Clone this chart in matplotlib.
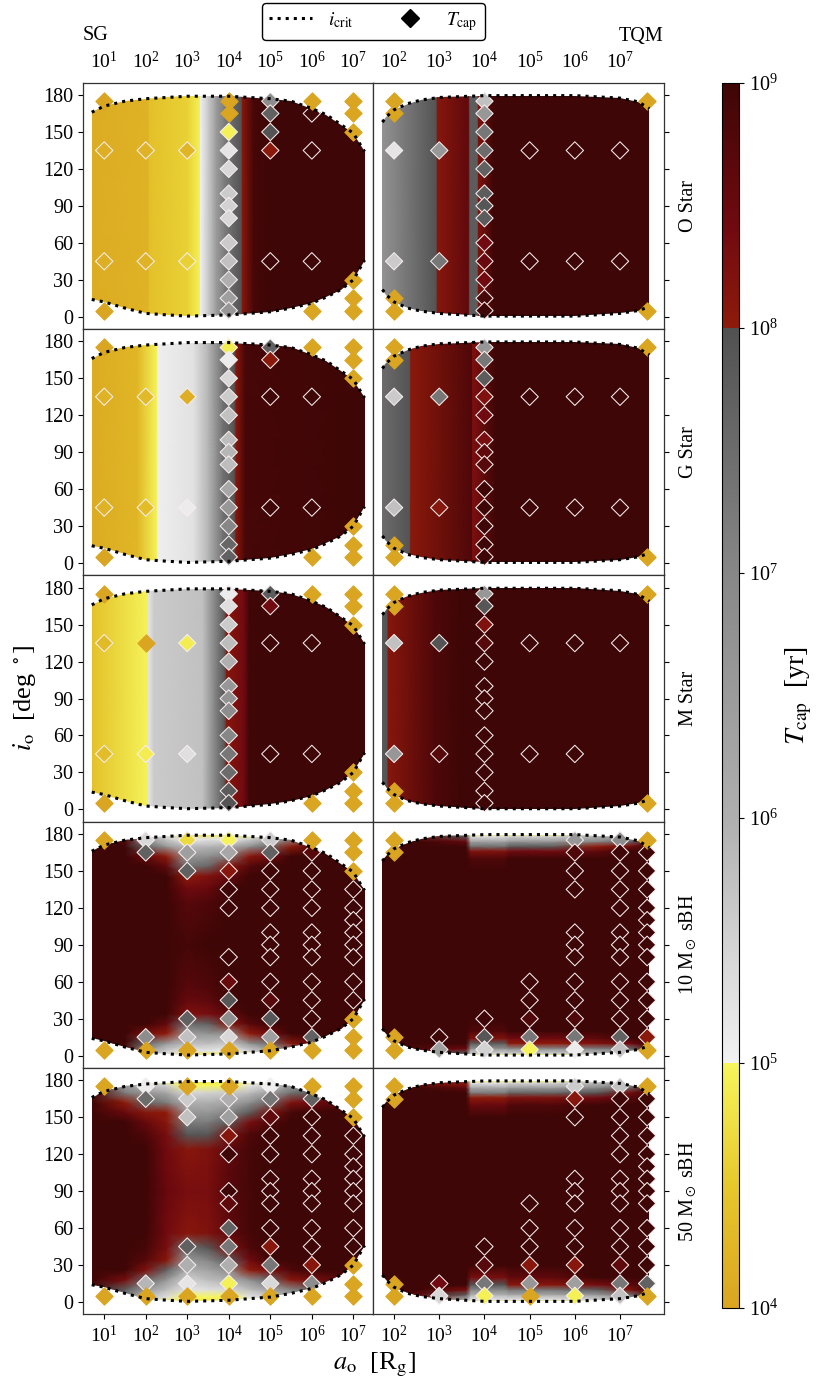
import numpy as np
import matplotlib
matplotlib.use('Agg')
import matplotlib.pyplot as plt
import matplotlib.ticker as ticker
from matplotlib.colors import LinearSegmentedColormap, Normalize, LogNorm
from matplotlib.cm import ScalarMappable
from matplotlib.lines import Line2D
from matplotlib.path import Path

plt.rcParams.update({
    'font.family': 'serif',
    'font.serif': ['Liberation Serif', 'DejaVu Serif'],
    'mathtext.fontset': 'stix',
    'font.size': 13,
    'xtick.labelsize': 14,
    'ytick.labelsize': 14.5,
    'xtick.direction': 'out',
    'ytick.direction': 'out',
})

GOLD = '#daa520'

# ---- i_crit boundaries: log10(a_o) and inclination [deg] ----
sg_edge_a = [0.70, 1.0, 1.5, 2.0, 2.5, 3.0, 4.0, 5.0, 5.5, 6.0, 6.35, 6.7, 7.0, 7.27]
sg_edge_top = [166, 171, 175, 177, 178, 179, 179, 177, 175, 169, 164, 156, 149, 134]
sg_edge_bot = [14, 12, 7, 2.7, 1.5, 0.5, 1.4, 4, 7, 11, 16, 22, 30, 46]
tqm_edge_a = [1.74, 1.85, 2.0, 2.3, 2.6, 3.0, 4.0, 5.0, 6.0, 7.0, 7.4, 7.65]
tqm_edge_top = [158, 163, 168, 173, 176, 178, 179.5, 179.5, 179.5, 177.5, 174.5, 169]
tqm_edge_bot = [22, 17, 12, 7, 4.5, 2.7, 0.5, 0.5, 0.5, 2.7, 5, 8]

# ---- log10 T_cap maps for stars (depend on a_o only) ----
o_sg_a = [0.70, 2.05, 2.10, 3.00, 3.30, 3.32, 3.50, 3.70, 3.90, 4.10, 4.30, 4.33, 4.60, 5.00, 7.30]
o_sg_T = [4.10, 4.20, 4.40, 4.60, 4.95, 5.05, 5.60, 6.50, 7.20, 7.60, 7.95, 8.10, 8.90, 9.00, 9.00]
o_tqm_a = [1.74, 2.93, 2.96, 3.65, 3.68, 3.84, 3.87, 4.20, 7.65]
o_tqm_T = [6.70, 7.95, 8.10, 8.60, 7.80, 7.80, 8.20, 9.00, 9.00]
g_sg_a = [0.70, 1.80, 2.27, 2.29, 3.15, 3.50, 3.86, 4.13, 4.18, 4.40, 7.30]
g_sg_T = [4.10, 4.25, 4.97, 5.05, 5.25, 5.90, 7.40, 7.95, 8.10, 8.90, 9.00]
g_tqm_a = [1.74, 2.35, 2.37, 3.72, 3.74, 3.80, 4.25, 7.65]
g_tqm_T = [7.50, 7.95, 8.05, 8.80, 8.25, 8.30, 9.00, 9.00]
m_sg_a = [0.70, 2.05, 2.07, 2.20, 3.37, 3.90, 3.95, 4.36, 4.50, 7.30]
m_sg_T = [4.40, 4.97, 5.20, 5.60, 5.75, 7.90, 8.10, 8.40, 9.00, 9.00]
m_tqm_a = [1.74, 1.85, 1.87, 2.90, 3.50, 7.65]
m_tqm_T = [7.85, 7.95, 8.10, 8.80, 9.00, 9.00]
star_i = [0, 180]

# ---- log10 T_cap maps for sBH (rows: inclination, cols: log10 a_o) ----
sg_bh_a = [0.7, 1.5, 2.0, 2.5, 3.0, 3.5, 4.0, 4.5, 5.0, 5.5, 6.0, 7.3]
sg_bh_i = [0, 4, 10, 18, 26, 34, 44, 56, 90, 124, 136, 146, 154, 162, 170, 176, 180]
bh10_sg_T = [
    [9, 7.5, 5.8, 5.1, 4.7, 4.8, 4.9, 5.0, 5.5, 6.5, 7.5, 9],
    [9, 8.7, 6.5, 5.6, 5.2, 5.2, 5.1, 5.5, 6.0, 7.0, 7.8, 9],
    [9, 9, 7.6, 6.6, 5.8, 5.8, 5.6, 6.8, 7.5, 8.1, 8.6, 9],
    [9, 9, 8.3, 8.0, 6.5, 6.7, 6.8, 8.0, 8.4, 9, 9, 9],
    [9, 9, 9, 8.6, 7.5, 7.7, 8.1, 8.7, 9, 9, 9, 9],
    [9, 9, 9, 9, 8.2, 8.3, 8.6, 9, 9, 9, 9, 9],
    [9, 9, 9, 9, 8.5, 8.6, 9, 9, 9, 9, 9, 9],
    [9, 9, 9, 9, 8.7, 8.8, 9, 9, 9, 9, 9, 9],
    [9, 9, 9, 9, 8.9, 9, 9, 9, 9, 9, 9, 9],
    [9, 9, 9, 9, 8.7, 8.8, 9, 9, 9, 9, 9, 9],
    [9, 9, 9, 9, 8.4, 8.5, 9, 9, 9, 9, 9, 9],
    [9, 9, 9, 9, 8.0, 8.2, 8.5, 9, 9, 9, 9, 9],
    [9, 9, 9, 8.6, 7.3, 7.6, 8.1, 8.7, 9, 9, 9, 9],
    [9, 9, 8.5, 8.0, 6.6, 6.8, 7.2, 8.1, 8.4, 9, 9, 9],
    [9, 9, 7.6, 6.6, 5.8, 5.9, 6.0, 6.8, 7.5, 8.0, 8.6, 9],
    [9, 8.7, 6.5, 5.6, 5.1, 5.2, 5.2, 5.5, 6.2, 7.0, 7.8, 9],
    [9, 7.5, 5.8, 5.1, 4.7, 4.8, 4.9, 5.0, 5.5, 6.5, 7.5, 9],
]
bh50_sg_T = [
    [8.6, 6.5, 5.5, 5.0, 4.7, 4.8, 4.8, 4.9, 5.2, 6.0, 6.8, 9],
    [8.6, 7.0, 5.8, 5.3, 5.0, 5.0, 5.0, 5.2, 5.5, 6.4, 7.0, 9],
    [8.8, 7.8, 6.5, 5.8, 5.2, 5.3, 5.4, 5.8, 6.3, 7.0, 7.6, 9],
    [9, 8.3, 7.6, 6.6, 5.5, 5.8, 6.0, 6.8, 7.6, 8.1, 8.3, 9],
    [9, 9, 8.2, 7.7, 6.0, 6.3, 6.8, 8.0, 8.3, 8.8, 9, 9],
    [9, 9, 8.7, 8.1, 6.6, 7.0, 7.8, 8.4, 9, 9, 9, 9],
    [9, 9, 8.9, 8.3, 7.4, 7.9, 8.2, 8.8, 9, 9, 9, 9],
    [9, 9, 9, 8.4, 8.1, 8.2, 8.6, 8.9, 9, 9, 9, 9],
    [9, 9, 9, 8.5, 8.3, 8.3, 8.7, 8.9, 9, 9, 9, 9],
    [9, 9, 9, 8.4, 8.1, 8.2, 8.6, 8.9, 9, 9, 9, 9],
    [9, 9, 8.8, 8.3, 7.9, 7.9, 8.2, 8.8, 9, 9, 9, 9],
    [9, 9, 8.5, 8.1, 7.2, 7.2, 7.8, 8.3, 8.8, 9, 9, 9],
    [9, 8.5, 8.1, 8.0, 6.6, 6.6, 7.0, 7.8, 8.2, 8.9, 9, 9],
    [9, 8.0, 7.6, 7.2, 6.0, 6.0, 6.2, 6.8, 7.6, 8.2, 8.4, 9],
    [8.8, 7.2, 6.6, 6.2, 5.4, 5.5, 5.6, 5.8, 6.4, 7.4, 7.8, 9],
    [8.6, 6.5, 5.8, 5.5, 5.0, 5.0, 5.0, 5.2, 5.6, 6.6, 7.2, 9],
    [8.6, 6.0, 5.5, 5.0, 4.7, 4.8, 4.8, 4.9, 5.2, 6.2, 7.0, 9],
]
tqm_bh_a = [1.74, 2.5, 3.6, 3.7, 4.45, 4.55, 5.5, 6.5, 7.2, 7.65]
tqm_bh_i = [0, 2, 6, 10, 14, 20, 30, 90, 150, 160, 166, 170, 174, 178, 180]
bh10_tqm_T = [
    [9, 8.0, 7.5, 5.0, 5.0, 5.0, 5.0, 5.3, 6.0, 7.5],
    [9, 8.3, 7.9, 5.5, 5.5, 5.6, 5.6, 5.8, 6.5, 7.8],
    [9, 8.8, 8.5, 6.8, 6.8, 7.0, 7.0, 7.2, 7.5, 8.5],
    [9, 9, 9, 7.8, 7.8, 8.0, 8.0, 8.2, 8.4, 9],
    [9, 9, 9, 8.2, 8.2, 8.4, 8.4, 8.6, 9, 9],
    [9, 9, 9, 8.8, 8.8, 9, 9, 9, 9, 9],
    [9, 9, 9, 9, 9, 9, 9, 9, 9, 9],
    [9, 9, 9, 9, 9, 9, 9, 9, 9, 9],
    [9, 9, 9, 9, 9, 9, 9, 9, 9, 9],
    [9, 9, 9, 8.8, 8.8, 9, 9, 9, 9, 9],
    [9, 9, 9, 8.2, 8.2, 8.4, 8.4, 8.6, 9, 9],
    [9, 9, 9, 7.4, 7.4, 7.8, 7.8, 8.0, 8.3, 9],
    [9, 9, 8.5, 6.3, 6.3, 6.6, 6.6, 7.0, 7.5, 8.5],
    [9, 8.3, 7.9, 5.3, 5.3, 5.5, 5.5, 6.0, 6.5, 7.8],
    [9, 8.0, 7.5, 5.0, 5.0, 5.0, 5.0, 5.5, 6.0, 7.5],
]
bh50_tqm_T = [
    [9, 7.6, 5.5, 4.8, 4.8, 4.8, 4.8, 5.0, 6.0, 7.5],
    [9, 8.0, 6.0, 5.2, 5.2, 5.2, 5.2, 5.5, 6.5, 7.8],
    [9, 8.6, 7.8, 6.0, 6.0, 6.2, 6.2, 6.6, 7.4, 8.5],
    [9, 9, 8.3, 7.0, 7.0, 7.3, 7.3, 7.8, 8.2, 9],
    [9, 9, 9, 7.9, 7.9, 8.1, 8.1, 8.3, 8.6, 9],
    [9, 9, 9, 8.3, 8.3, 8.6, 8.6, 9, 9, 9],
    [9, 9, 9, 9, 9, 9, 9, 9, 9, 9],
    [9, 9, 9, 9, 9, 9, 9, 9, 9, 9],
    [9, 9, 9, 9, 9, 9, 9, 9, 9, 9],
    [9, 9, 9, 8.5, 8.5, 8.8, 8.8, 9, 9, 9],
    [9, 9, 9, 8.0, 8.0, 8.2, 8.2, 8.4, 8.7, 9],
    [9, 9, 9, 7.2, 7.2, 7.6, 7.6, 7.9, 8.3, 9],
    [9, 9, 8.6, 6.2, 6.2, 6.5, 6.5, 7.0, 7.6, 8.6],
    [9, 8.2, 8.0, 5.2, 5.2, 5.4, 5.4, 5.8, 6.6, 8.0],
    [9, 7.8, 7.6, 4.8, 4.8, 4.9, 4.9, 5.2, 6.0, 7.6],
]

# ---- individual runs: (log10 a_o, i_o, log10 T_cap) ----
o_sg_pts = [(1, 135, 4.15), (1, 45, 4.15), (2, 135, 4.2), (2, 45, 4.2), (3, 135, 4.25), (3, 45, 4.6),
            (4, 150, 4.95), (4, 135, 5.2), (4, 120, 5.4), (4, 100, 5.6), (4, 90, 5.5), (4, 80, 5.4),
            (4, 60, 5.6), (4, 45, 5.75), (4, 30, 6.0), (4, 15, 6.4), (4, 5, 6.6),
            (5, 175, 6.85), (5, 165, 7.7), (5, 150, 7.95), (5, 135, 8.05), (5, 45, 9),
            (6, 165, 9), (6, 135, 9), (6, 45, 9)]
o_tqm_pts = [(2, 135, 5.2), (2, 45, 5.6), (3, 135, 6.6), (3, 45, 7.3),
             (4, 175, 5.75), (4, 165, 6.6), (4, 150, 7.3), (4, 135, 7.5), (4, 120, 7.7), (4, 100, 7.8),
             (4, 90, 7.9), (4, 80, 7.8), (4, 60, 8.4), (4, 45, 8.5), (4, 30, 8.4), (4, 15, 8.9), (4, 5, 9),
             (5, 135, 9), (5, 45, 9), (6, 135, 9), (6, 45, 9), (7, 135, 9), (7, 45, 9)]
g_sg_pts = [(1, 135, 4.2), (1, 45, 4.2), (2, 135, 4.3), (2, 45, 4.35), (3, 135, 4.15), (3, 45, 5.1),
            (4, 175, 4.9), (4, 165, 5.1), (4, 150, 5.4), (4, 135, 5.6), (4, 120, 5.75), (4, 100, 5.8),
            (4, 90, 5.9), (4, 80, 5.8), (4, 60, 6.2), (4, 45, 6.6), (4, 30, 7.0), (4, 15, 7.6), (4, 5, 7.7),
            (5, 175, 7.7), (5, 165, 8.05), (5, 135, 9), (5, 45, 9), (6, 135, 9), (6, 45, 9)]
g_tqm_pts = [(2, 135, 5.6), (2, 45, 5.75), (3, 135, 7.3), (3, 45, 8.1),
             (4, 175, 6.6), (4, 165, 7.3), (4, 150, 7.8), (4, 135, 8.2), (4, 120, 8.4), (4, 100, 8.3),
             (4, 90, 8.6), (4, 80, 8.7), (4, 60, 9), (4, 45, 9), (4, 30, 9), (4, 15, 9), (4, 5, 9),
             (5, 135, 9), (5, 45, 9), (6, 135, 9), (6, 45, 9), (7, 135, 9), (7, 45, 9)]
m_sg_pts = [(1, 135, 4.3), (1, 45, 4.35), (2, 45, 4.9), (3, 135, 4.9), (3, 45, 5.3),
            (4, 175, 5.1), (4, 165, 5.3), (4, 150, 5.6), (4, 135, 5.8), (4, 120, 6.0), (4, 100, 6.6),
            (4, 90, 6.7), (4, 80, 6.85), (4, 60, 7.0), (4, 45, 7.3), (4, 30, 7.5), (4, 15, 7.8), (4, 5, 7.95),
            (5, 175, 7.8), (5, 165, 8.4), (5, 135, 9), (5, 45, 9), (6, 135, 9), (6, 45, 9)]
m_tqm_pts = [(2, 135, 5.75), (2, 45, 6.6), (3, 135, 7.95), (3, 45, 8.7),
             (4, 175, 6.6), (4, 165, 7.9), (4, 150, 8.2), (4, 135, 8.7), (4, 120, 9), (4, 100, 9),
             (4, 90, 9), (4, 80, 9), (4, 60, 9), (4, 45, 9), (4, 30, 9), (4, 15, 9), (4, 5, 9),
             (5, 135, 9), (5, 45, 9), (6, 135, 9), (6, 45, 9), (7, 135, 9)]
bh10_sg_pts = [(2, 175, 5.4), (2, 165, 7.7), (2, 15, 6.85),
               (3, 175, 4.7), (3, 165, 6.4), (3, 150, 7.7), (3, 30, 7.7), (3, 15, 5.75),
               (4, 175, 4.97), (4, 165, 6.2), (4, 150, 8.1), (4, 135, 9), (4, 120, 9), (4, 80, 9),
               (4, 60, 8.5), (4, 45, 7.9), (4, 30, 6.85), (4, 15, 5.4),
               (5, 175, 5.6), (5, 165, 7.7), (5, 150, 9), (5, 135, 9), (5, 120, 9), (5, 100, 9),
               (5, 90, 9), (5, 80, 9), (5, 60, 9), (5, 45, 8.7), (5, 30, 7.9), (5, 15, 6.4),
               (6, 165, 8.7), (6, 150, 9), (6, 135, 9), (6, 120, 9), (6, 100, 9), (6, 90, 9),
               (6, 80, 9), (6, 60, 9), (6, 45, 9), (6, 30, 9), (6, 15, 7.7),
               (7, 135, 9), (7, 120, 9), (7, 110, 9), (7, 100, 9), (7, 90, 9), (7, 80, 9),
               (7, 60, 9), (7, 45, 9)]
bh10_tqm_pts = [(3, 15, 9), (3, 5, 6.4),
                (4, 30, 9), (4, 15, 7.9), (4, 5, 5.5),
                (5, 60, 9), (5, 45, 9), (5, 30, 8.8), (5, 15, 7.3), (5, 5, 4.97),
                (6, 175, 6.6), (6, 165, 8.8), (6, 150, 9), (6, 135, 9), (6, 100, 9), (6, 90, 9),
                (6, 80, 9), (6, 60, 9), (6, 45, 9), (6, 30, 8.8), (6, 15, 7.3), (6, 5, 5.1),
                (7, 175, 6.85), (7, 165, 9), (7, 150, 9), (7, 135, 9), (7, 120, 9), (7, 100, 9),
                (7, 90, 9), (7, 80, 9), (7, 60, 9), (7, 45, 9), (7, 30, 9), (7, 15, 7.7), (7, 5, 5.75),
                (7.6, 165, 9), (7.6, 150, 9), (7.6, 135, 9), (7.6, 120, 9), (7.6, 110, 9),
                (7.6, 100, 9), (7.6, 90, 9), (7.6, 80, 9), (7.6, 60, 9), (7.6, 45, 9),
                (7.6, 30, 9), (7.6, 15, 8.05)]
bh50_sg_pts = [(2, 175, 5.1), (2, 165, 7.5), (2, 15, 5.9),
               (3, 165, 5.6), (3, 150, 5.75), (3, 45, 7.7), (3, 30, 6.0), (3, 15, 5.2),
               (4, 165, 6.0), (4, 150, 6.4), (4, 135, 8.1), (4, 120, 9), (4, 90, 9), (4, 80, 8.6),
               (4, 60, 7.7), (4, 45, 7.3), (4, 30, 6.0), (4, 15, 4.95),
               (5, 175, 5.05), (5, 165, 7.3), (5, 150, 8.6), (5, 135, 9), (5, 120, 9), (5, 100, 9),
               (5, 90, 9), (5, 80, 9), (5, 60, 9), (5, 45, 8.1), (5, 30, 7.3), (5, 15, 5.4),
               (6, 165, 7.7), (6, 150, 9), (6, 135, 9), (6, 120, 9), (6, 100, 9), (6, 90, 9),
               (6, 80, 9), (6, 60, 9), (6, 45, 9), (6, 30, 8.1), (6, 15, 6.85),
               (7, 135, 9), (7, 120, 9), (7, 110, 9), (7, 100, 9), (7, 90, 9), (7, 80, 9),
               (7, 60, 9), (7, 45, 9)]
bh50_tqm_pts = [(3, 15, 8.4), (3, 5, 5.4),
                (4, 45, 9), (4, 30, 8.7), (4, 15, 7.3), (4, 5, 4.95),
                (5, 80, 9), (5, 60, 9), (5, 45, 9), (5, 30, 8.1), (5, 15, 6.6),
                (6, 175, 5.6), (6, 165, 8.1), (6, 150, 9), (6, 100, 9), (6, 90, 9), (6, 80, 9),
                (6, 60, 9), (6, 45, 9), (6, 30, 8.1), (6, 15, 6.4), (6, 5, 4.95),
                (7, 175, 5.75), (7, 165, 9), (7, 150, 9), (7, 135, 9), (7, 120, 9), (7, 100, 9),
                (7, 90, 9), (7, 80, 9), (7, 60, 9), (7, 45, 9), (7, 30, 8.6), (7, 15, 7.3), (7, 5, 5.75),
                (7.6, 165, 9), (7.6, 150, 9), (7.6, 135, 9), (7.6, 120, 9), (7.6, 110, 9),
                (7.6, 100, 9), (7.6, 90, 9), (7.6, 80, 9), (7.6, 60, 9), (7.6, 45, 9),
                (7.6, 30, 9), (7.6, 15, 7.7)]

# runs outside i_crit (immediate capture), drawn in plain gold
sg_gold = [(1, 175), (1, 5), (6, 175), (6, 5), (7, 175), (7, 165), (7, 150), (7, 30), (7, 15), (7, 5)]
o_sg_gold = sg_gold + [(4, 175), (4, 165)]
m_sg_gold = sg_gold + [(2, 135)]
bh10_sg_gold = sg_gold + [(2, 5), (3, 5), (4, 5), (5, 5)]
bh50_sg_gold = sg_gold + [(2, 5), (3, 175), (3, 5), (4, 175), (4, 5), (5, 5)]
tqm_gold = [(2, 175), (2, 165), (2, 15), (2, 5), (7.6, 175), (7.6, 5)]
bh50_tqm_gold = tqm_gold + [(5, 5)]

row_labels = ['O Star', 'G Star', 'M Star', r'10 M$_\odot$ sBH', r'50 M$_\odot$ sBH']

cmap = LinearSegmentedColormap.from_list('tcap', [
    (0.0, '#daa520'), (0.1, '#e6c82c'), (0.1999, '#f6f65c'),
    (0.2, '#f2f2f2'), (0.3, '#d2d2d2'), (0.4, '#afafaf'),
    (0.6, '#878787'), (0.7999, '#515151'),
    (0.8, '#8e1b0b'), (0.88, '#710a10'), (1.0, '#3e0606'),
], N=2048)
norm = Normalize(4, 9)


def draw_panel(ax, a_nodes, i_nodes, logT, edge, pts, gold):
    X, Y = np.meshgrid(10.0 ** np.asarray(a_nodes, float), i_nodes)
    mesh = ax.pcolormesh(X, Y, np.asarray(logT, float), shading='gouraud',
                         cmap=cmap, norm=norm, zorder=1, rasterized=True)
    ea = 10.0 ** np.asarray(edge[0], float)
    xs = np.r_[ea, ea[::-1], ea[0]]
    ys = np.r_[edge[1], edge[2][::-1], edge[1][0]]
    mesh.set_clip_path(Path(np.column_stack([xs, ys]), closed=True), ax.transData)

    pa, pi, pt = zip(*pts)
    ax.scatter(10.0 ** np.array(pa), pi, c=pt, cmap=cmap, norm=norm, marker='D',
               s=78, edgecolors='#f6eeee', linewidths=0.75, zorder=3)
    ga, gi = zip(*gold)
    ax.scatter(10.0 ** np.array(ga), gi, color=GOLD, marker='D', s=78,
               edgecolors=GOLD, linewidths=0.75, zorder=3)
    ax.plot(ea, edge[1], ls=':', color='k', lw=2.2, zorder=4)
    ax.plot(ea, edge[2], ls=':', color='k', lw=2.2, zorder=4)


sg_edge = (sg_edge_a, sg_edge_top, sg_edge_bot)
tqm_edge = (tqm_edge_a, tqm_edge_top, tqm_edge_bot)
rows = [
    ((o_sg_a, star_i, [o_sg_T, o_sg_T]), (o_tqm_a, star_i, [o_tqm_T, o_tqm_T]),
     o_sg_pts, o_sg_gold, o_tqm_pts, tqm_gold),
    ((g_sg_a, star_i, [g_sg_T, g_sg_T]), (g_tqm_a, star_i, [g_tqm_T, g_tqm_T]),
     g_sg_pts, sg_gold, g_tqm_pts, tqm_gold),
    ((m_sg_a, star_i, [m_sg_T, m_sg_T]), (m_tqm_a, star_i, [m_tqm_T, m_tqm_T]),
     m_sg_pts, m_sg_gold, m_tqm_pts, tqm_gold),
    ((sg_bh_a, sg_bh_i, bh10_sg_T), (tqm_bh_a, tqm_bh_i, bh10_tqm_T),
     bh10_sg_pts, bh10_sg_gold, bh10_tqm_pts, tqm_gold),
    ((sg_bh_a, sg_bh_i, bh50_sg_T), (tqm_bh_a, tqm_bh_i, bh50_tqm_T),
     bh50_sg_pts, bh50_sg_gold, bh50_tqm_pts, bh50_tqm_gold),
]

W, H = 830.0, 1384.0
L0, L1, R1 = 83.0, 373.3, 664.3
T0, B0 = 82.7, 1314.3
rh = (B0 - T0) / 5

fig = plt.figure(figsize=(W / 100, H / 100), dpi=100)

for r, (sg_map, tqm_map, sg_pts, sg_g, tqm_pts, tqm_g) in enumerate(rows):
    y0 = 1 - (T0 + (r + 1) * rh) / H
    axL = fig.add_axes([L0 / W, y0, (L1 - L0) / W, rh / H])
    axR = fig.add_axes([L1 / W, y0, (R1 - L1) / W, rh / H])
    draw_panel(axL, *sg_map, sg_edge, sg_pts, sg_g)
    draw_panel(axR, *tqm_map, tqm_edge, tqm_pts, tqm_g)

    for ax, lo, hi, ks in [(axL, 0.49, 7.48, range(1, 8)), (axR, 1.54, 7.98, range(2, 8))]:
        ax.set_xscale('log')
        ax.set_xlim(10 ** lo, 10 ** hi)
        ax.set_ylim(-10, 190)
        ax.xaxis.set_major_locator(ticker.FixedLocator([10.0 ** k for k in ks]))
        ax.xaxis.set_minor_locator(ticker.NullLocator())
        ax.set_yticks(np.arange(0, 181, 30))
        for sp in ax.spines.values():
            sp.set_linewidth(0.9)
            sp.set_color('0.2')
        ax.tick_params(axis='x', bottom=(r == 4), labelbottom=(r == 4),
                       top=False, labeltop=(r == 0), pad=4)
    axL.tick_params(axis='y', left=True, labelleft=True, right=False)
    axR.tick_params(axis='y', left=False, labelleft=False, right=True, labelright=False)
    axR.text(1.083, 0.5, row_labels[r], transform=axR.transAxes, rotation=90,
             ha='center', va='center', fontsize=14.5)

# colour bar
cax = fig.add_axes([722 / W, 1 - 1308 / H, 17 / W, (1308 - 82.7) / H])
sm = ScalarMappable(norm=LogNorm(1e4, 1e9), cmap=cmap)
cb = fig.colorbar(sm, cax=cax)
cb.set_ticks([1e4, 1e5, 1e6, 1e7, 1e8, 1e9])
cb.ax.minorticks_off()
cb.ax.tick_params(labelsize=14.5)
cb.outline.set_linewidth(0.8)
cb.set_label(r'$T_\mathrm{cap}$  [yr]', fontsize=20, labelpad=4)

# labels around the grid
fig.text(L0 / W, 1 - 36 / H, 'SG', ha='left', va='center', fontsize=14.5)
fig.text(663 / W, 1 - 36 / H, 'TQM', ha='right', va='center', fontsize=14.5)
fig.text(374 / W, 1 - 1365 / H, r'$a_\mathrm{o}$  [R$_\mathrm{g}$]', ha='center',
         va='center', fontsize=19)
fig.text(24 / W, 1 - 698 / H, r'$i_\mathrm{o}$  [deg $^\circ$]', ha='center',
         va='center', rotation=90, fontsize=19)

handles = [Line2D([], [], ls=':', color='k', lw=2.2),
           Line2D([], [], ls='', marker='D', color='k', ms=9)]
fig.legend(handles, [r'$i_\mathrm{crit}$', r'$T_\mathrm{cap}$'], loc='upper center',
           bbox_to_anchor=(373.5 / W, 1 - 3 / H), ncol=2, fontsize=14,
           frameon=True, fancybox=True, edgecolor='k', framealpha=1,
           handlelength=2.2, handletextpad=0.8, columnspacing=1.8,
           borderpad=0.35, borderaxespad=0)

fig.savefig('out.png', dpi=100)
